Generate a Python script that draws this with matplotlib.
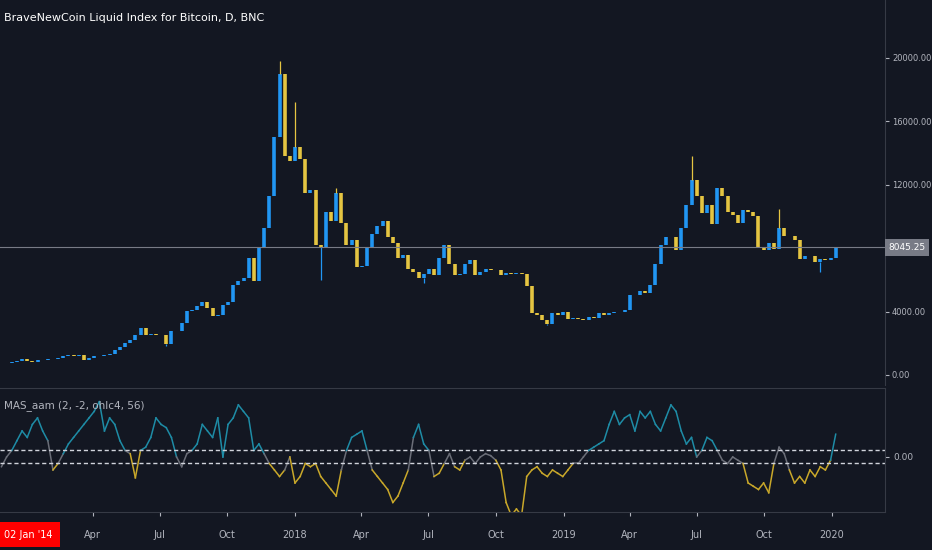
import numpy as np
import pandas as pd
import matplotlib
matplotlib.use('Agg')
import matplotlib.pyplot as plt
import matplotlib.dates as mdates

# ── Data (weekly) ─────────────────────────────────────────────────────────
closes = [
    765, 770, 790, 900, 1000,
    900, 820, 920, 920, 1020, 1000, 1050, 1180, 1270, 1230, 1240, 960, 1080,
    1200, 1180, 1240, 1350, 1550, 1750, 2050, 2200, 2500, 2950, 2550, 2600,
    2500, 2500, 1950, 2750, 2750, 3250, 4050, 4100, 4350, 4600, 4200, 3700,
    3800, 4400, 4600, 5700, 5900, 6100, 7400, 5900, 8000, 9300, 11300, 15000,
    19000, 13800, 13500,
    14400, 13600, 11500, 11700, 8200, 8100, 10300, 9700, 11500, 9600, 8200,
    8500, 6800, 6900, 8000, 8900, 9400, 9700, 8700, 8300, 7400, 7600, 6700,
    6500, 6100, 6350, 6700, 6300, 7400, 8200, 7000, 6300, 6400, 7000, 7250,
    6300, 6500, 6700, 6600, 6600, 6300, 6450, 6400, 6450, 6350, 5600, 3900,
    3800, 3500, 3200, 3900, 3800,
    4000, 3550, 3600, 3550, 3450, 3650, 3600, 3900, 3800, 3900, 4000, 4000,
    4100, 5050, 5050, 5300, 5200, 5700, 7000, 8200, 8700, 8700, 7900, 9300,
    10700, 12300, 11300, 10200, 10700, 9500, 11800, 11300, 10300, 10100, 9600,
    10400, 10300, 10000, 8100, 7900, 8300, 7950, 9250, 8800, 8800, 8500, 7300,
    7500, 7500, 7100, 7300, 7250, 7400, 8045.25,
]
wick_highs = {'2017-12-11': 19800, '2018-01-01': 17200, '2019-06-24': 13800,
              '2018-02-26': 11800, '2019-10-21': 10500}
wick_lows = {'2018-02-05': 6000, '2018-12-10': 3150, '2019-12-16': 6500,
             '2017-07-10': 1850, '2018-06-25': 5800}
mas = [
    1, 1.5, 2, 3, 3.5, 5, 6,
    -1.5, 0, 1, 2.5, 4, 3, 5, 6, 4, 2.5, -2, -1, 0.5, 2, 3, 4, 5, 6, 7, 8.5,
    4, 6, 5, 2.5, 1, 0.5, -3.2, 1, 1.5, 3, 6, 5, 4.5, 3, 0, -1.5, 0.5, 1,
    2, 5, 4, 3, 6, 0, 5, 6, 8, 7, 6, 1, 2, 0.5,
    -1, -2, -3, -2, 0, -4, -3, -1, -1.5, -1, -3, -4, -5, -6, -2, 1, 3, 3.5,
    4, 1, -2, -3, -4, -5, -7, -6, -4, -2, 3, 5, 2, 1, -3, -2.5, -1, 0.5, -1.5,
    -2, -0.5, 0, -1, 0, 0.5, 0.2, -0.5, -2, -7, -9, -8, -9, -3, -2, -1.5,
    -2.5, -3, -2, -2.5, -3, -2, -1, -1, 0, 1, 1.5, 2, 2.5, 5, 7, 5, 6, 6.5,
    4, 7, 6, 7, 5, 4, 6, 8, 7, 4, 2, 3, 0, 1, 3, 2.5, 1, -0.5, -1, 0, -0.5, -1,
    -4, -4.5, -5, -4, -5.5, -1, 1.5, 0.5, -2, -4, -3, -4, -2, -3, -1.5, -2,
    -0.5, 3.5,
]
n = min(len(closes), len(mas))
closes = closes[-n:]
mas = mas[-n:]
dates = pd.date_range(end='2020-01-06', periods=n, freq='7D')

BG = '#131722'
TXT = '#b2b5be'
UP, DN = '#2196f3', '#e5c542'

fig = plt.figure(figsize=(9.32, 5.5), dpi=100, facecolor=BG)
ax = fig.add_axes([0, 0.3, 885/932, 0.7], facecolor=BG)
ax2 = fig.add_axes([0, 38/550, 885/932, 124/550], facecolor=BG, sharex=ax)

x = mdates.date2num(dates)
opens = [closes[0] * 0.97] + closes[:-1]
body = {}
for d, xi, o, c in zip(dates, x, opens, closes):
    col = UP if c >= o else DN
    ax.vlines(xi, min(o, c), max(o, c), color=col, lw=2.6)
    body[d.strftime('%Y-%m-%d')] = (min(o, c), max(o, c))
for d, h in wick_highs.items():
    ax.vlines(mdates.datestr2num(d), body[d][1], h, color=DN, lw=0.9)
for d, l in wick_lows.items():
    ax.vlines(mdates.datestr2num(d), l, body[d][0], color=UP, lw=0.9)

last = closes[-1]
ax.axhline(last, color='#787b86', lw=0.8)
ax.set_ylim(-631, 23659)
ax.set_xlim(mdates.datestr2num('2016-11-26'), mdates.datestr2num('2020-03-13'))
ax.yaxis.tick_right()
yt = [0, 4000, 12000, 16000, 20000]
ax.set_yticks(yt)
ax.set_yticklabels([f'{v:.2f}' for v in yt])
ax.tick_params(axis='y', colors=TXT, labelsize=6, length=3, pad=2)
ax.tick_params(axis='x', length=0, labelbottom=False)
ax.text(1.004, last, f'{last:.2f}', transform=ax.get_yaxis_transform(),
        color='white', fontsize=6.5, va='center', ha='left',
        bbox=dict(boxstyle='square,pad=0.4', fc='#787b86', ec='none'))
ax.text(0.004, 0.965, 'BraveNewCoin Liquid Index for Bitcoin, D, BNC',
        transform=ax.transAxes, color='white', fontsize=8, va='top')

# indicator line, colour by zone
for i in range(n - 1):
    v = (mas[i] + mas[i + 1]) / 2
    col = '#1e8ca6' if v > 1 else ('#c9a82a' if v < -1 else '#6b6e78')
    ax2.plot(x[i:i + 2], mas[i:i + 2], color=col, lw=1.1)
ax2.axhline(1, color='#d1d4dc', lw=1, ls=(0, (3, 2)))
ax2.axhline(-1, color='#d1d4dc', lw=1, ls=(0, (3, 2)))
ax2.set_ylim(-8.46, 10.6)
ax2.yaxis.tick_right()
ax2.set_yticks([0])
ax2.set_yticklabels(['0.00'])
ax2.tick_params(axis='y', colors=TXT, labelsize=6.5, length=3, pad=3)
ax2.text(0.004, 0.9, 'MAS_aam (2, -2, ohlc4, 56)', transform=ax2.transAxes,
         color=TXT, fontsize=7.5, va='top')

ticks = ['2017-04-01', '2017-07-01', '2017-10-01', '2018-01-01', '2018-04-01',
         '2018-07-01', '2018-10-01', '2019-01-01', '2019-04-01', '2019-07-01',
         '2019-10-01', '2020-01-01']
tick_labels = ['Apr', 'Jul', 'Oct', '2018', 'Apr', 'Jul', 'Oct', '2019',
               'Apr', 'Jul', 'Oct', '2020']
ax2.set_xticks([mdates.datestr2num(t) for t in ticks])
ax2.set_xticklabels(tick_labels)
ax2.tick_params(axis='x', colors=TXT, labelsize=7, length=3, pad=10)
for a in (ax, ax2):
    for s in a.spines.values():
        s.set_visible(False)
    a.spines['right'].set_visible(True)
    a.spines['right'].set_color('#363a45')
ax2.spines['top'].set_visible(True)
ax2.spines['top'].set_color('#363a45')
ax2.spines['bottom'].set_visible(True)
ax2.spines['bottom'].set_color('#363a45')
fig.text(0.03, 0.028, "02 Jan '14", color='white', fontsize=7, ha='center',
         va='center', bbox=dict(boxstyle='square,pad=0.8', fc='#ff0000', ec='none'))

fig.savefig('out.png', dpi=100, facecolor=BG)
